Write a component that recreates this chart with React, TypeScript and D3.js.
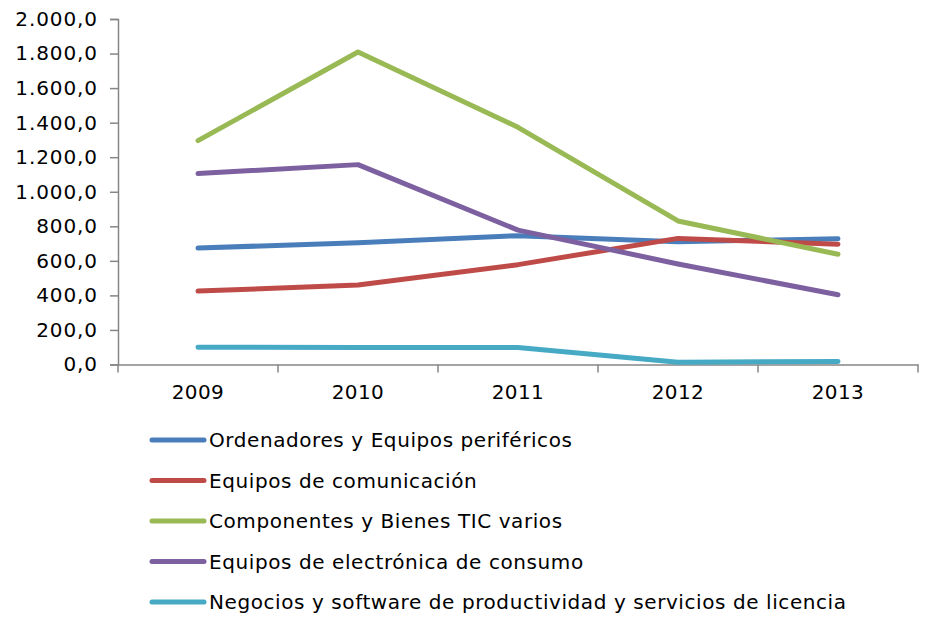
import * as d3 from "d3";
import { useEffect, useRef } from "react";

const years = ["2009", "2010", "2011", "2012", "2013"];
const seriesNames = [
  "Ordenadores y Equipos periféricos",
  "Equipos de comunicación",
  "Componentes y Bienes TIC varios",
  "Equipos de electrónica de consumo",
  "Negocios y software de productividad y servicios de licencia",
];
const ordenadores = [674, 705, 746, 711, 728];
const comunicacion = [425, 460, 578, 730, 696];
const componentes = [1296, 1809, 1373, 831, 638];
const electronica = [1105, 1157, 778, 582, 404];
const software = [100, 99, 98, 13, 18];
const yTicks = [0, 200, 400, 600, 800, 1000, 1200, 1400, 1600, 1800, 2000];
const colors = ["#4a7ebb", "#be4b48", "#98b954", "#7d60a0", "#46aac5"];

export default function App() {
  const svgRef = useRef<SVGSVGElement>(null);

  useEffect(() => {
    const svg = d3.select(svgRef.current);
    svg.selectAll("*").remove();

    const allSeries = [ordenadores, comunicacion, componentes, electronica, software];
    const font = "'DejaVu Sans', Verdana, sans-serif";
    const axisColor = "#868686";

    const x = d3.scaleBand().domain(years).range([118, 918]);
    const y = d3.scaleLinear().domain([0, 2000]).range([364.5, 19]);
    const fmt = (v: number) =>
      d3.format(",.1f")(v).replace(/,/g, "#").replace(".", ",").replace(/#/g, ".");

    // y axis
    const yAxis = svg.append("g").attr("transform", "translate(118,0)")
      .call(d3.axisLeft(y).tickValues(yTicks).tickSize(8).tickPadding(12).tickFormat(fmt));
    yAxis.select(".domain").attr("stroke", axisColor).attr("stroke-width", 1.5);
    yAxis.selectAll(".tick line").attr("stroke", axisColor).attr("stroke-width", 1.5);
    yAxis.selectAll("text").attr("font-family", font).attr("font-size", 20)
      .attr("letter-spacing", 0.9).attr("fill", "#000");

    // x axis
    const xAxis = svg.append("g").attr("transform", `translate(0,${y(0)})`)
      .call(d3.axisBottom(x).tickSize(0).tickPadding(20));
    xAxis.select(".domain").attr("stroke", axisColor).attr("stroke-width", 1.5);
    xAxis.selectAll("text").attr("font-family", font).attr("font-size", 20)
      .attr("letter-spacing", 0.4).attr("fill", "#000");
    const bounds = [...years.map((d) => x(d) as number), 918];
    svg.append("g").selectAll("line").data(bounds).enter().append("line")
      .attr("x1", (d) => d).attr("x2", (d) => d)
      .attr("y1", y(0)).attr("y2", y(0) + 8)
      .attr("stroke", axisColor).attr("stroke-width", 1.5);

    // lines
    const line = d3.line<number>()
      .x((_, i) => (x(years[i]) as number) + x.bandwidth() / 2)
      .y((d) => y(d));
    svg.append("g").selectAll("path").data(allSeries).enter().append("path")
      .attr("d", (d) => line(d))
      .attr("fill", "none")
      .attr("stroke", (_, i) => colors[i])
      .attr("stroke-width", 5)
      .attr("stroke-linecap", "round")
      .attr("stroke-linejoin", "round");

    // legend
    const legend = svg.append("g").selectAll("g").data(seriesNames).enter().append("g")
      .attr("transform", (_, i) => `translate(0,${440 + i * 40.5})`);
    legend.append("line")
      .attr("x1", 152).attr("x2", 204).attr("y1", 0).attr("y2", 0)
      .attr("stroke", (_, i) => colors[i]).attr("stroke-width", 5).attr("stroke-linecap", "round");
    legend.append("text")
      .attr("x", 209).attr("y", 0).attr("dy", "0.35em")
      .attr("font-family", font).attr("font-size", 20).attr("letter-spacing", 0.58)
      .attr("fill", "#000")
      .text((d) => d);
  }, []);

  return (
    <svg ref={svgRef} width={925} height={617}
      style={{ position: "absolute", left: 0, top: 0, background: "#fff" }} />
  );
}
